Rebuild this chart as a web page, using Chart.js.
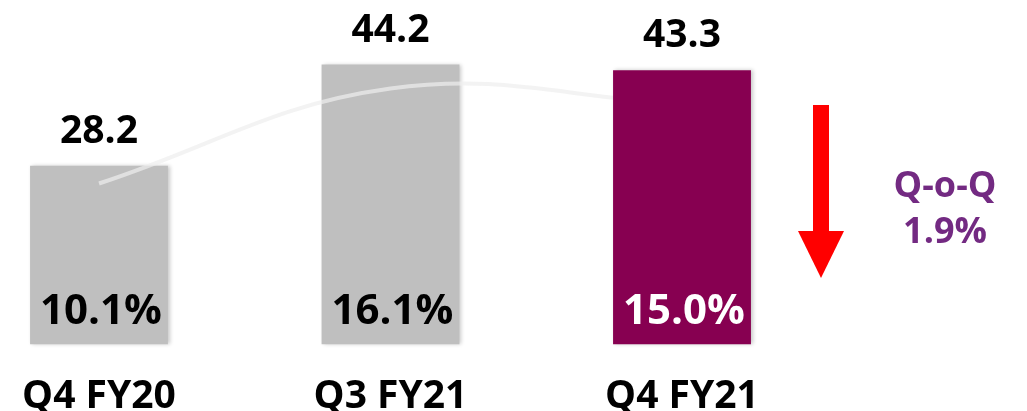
<!DOCTYPE html>
<html>
<head>
<meta charset="utf-8">
<script src="https://cdn.jsdelivr.net/npm/chart.js@4.4.1/dist/chart.umd.min.js"></script>
<style>
  html, body { margin: 0; padding: 0; background: #fff; }
  #wrap { width: 1027px; height: 411px; position: relative; overflow: hidden; }
  #inner { width: 1027px; height: 449px; position: absolute; left: 0; top: 0; }
</style>
</head>
<body>
<div id="wrap"><div id="inner"><canvas id="revenueChart"></canvas></div></div>
<script>
// Datos
const quarters = ['Q4 FY20', 'Q3 FY21', 'Q4 FY21'];
const revenueValues = [28.2, 44.2, 43.3];
const marginValues = [10.1, 16.1, 15.0];
const trendValues = [25.4, 40.4, 38.0];
const qoqChange = 1.9;
const highlightIndex = 2; // el trimestre actual va en morado

const grayColor = '#bfbfbf';
const purpleColor = '#870051';
const qoqColor = '#732a82';
const fontFamily = "'Open Sans', 'Noto Sans', sans-serif";

// separar las barras grises de la barra resaltada para poder dibujar la línea entre ellas
const grayBars = revenueValues.map((v, i) => i === highlightIndex ? null : v);
const purpleBars = revenueValues.map((v, i) => i === highlightIndex ? v : null);

// sombra suave a la derecha de las barras
const barShadow = {
    id: 'barShadow',
    beforeDatasetDraw(chart, args) {
        if (args.meta.type !== 'bar') return;
        const c = chart.ctx;
        c.save();
        c.shadowColor = 'rgba(0,0,0,0.22)';
        c.shadowBlur = 4;
        c.shadowOffsetX = 2;
    },
    afterDatasetDraw(chart, args) {
        if (args.meta.type !== 'bar') return;
        chart.ctx.restore();
    }
};

// etiquetas de valores, márgenes, flecha y texto Q-o-Q
const labelsPlugin = {
    id: 'labelsPlugin',
    afterDatasetsDraw(chart) {
        const c = chart.ctx;
        const yScale = chart.scales.y;
        const xScale = chart.scales.x;
        c.save();
        c.textAlign = 'center';
        c.textBaseline = 'alphabetic';
        revenueValues.forEach((v, i) => {
            const x = xScale.getPixelForValue(i);
            const top = yScale.getPixelForValue(v);
            const base = yScale.getPixelForValue(0);
            c.fillStyle = '#000';
            c.font = 'bold 39px ' + fontFamily;
            c.fillText(v.toFixed(1), x, top - 23);
            c.fillStyle = i === highlightIndex ? '#fff' : '#000';
            c.font = 'bold 42px ' + fontFamily;
            c.fillText(marginValues[i].toFixed(1) + '%', x + 2, base - 20);
        });

        // flecha roja hacia abajo
        const ax = chart.chartArea.right + 139;
        const aTop = 105, aHead = 231, aTip = 278;
        c.fillStyle = '#ff0000';
        c.fillRect(ax - 8, aTop, 16, aHead - aTop);
        c.beginPath();
        c.moveTo(ax - 23, aHead);
        c.lineTo(ax + 23, aHead);
        c.lineTo(ax, aTip);
        c.closePath();
        c.fill();

        // texto Q-o-Q
        const tx = chart.chartArea.right + 263;
        c.fillStyle = qoqColor;
        c.font = 'bold 36px ' + fontFamily;
        c.fillText('Q-o-Q', tx, 197);
        c.fillText(qoqChange.toFixed(1) + '%', tx, 243);
        c.restore();
    }
};

const ctx = document.getElementById('revenueChart').getContext('2d');
new Chart(ctx, {
    data: {
        labels: quarters,
        datasets: [
            {
                type: 'bar',
                data: grayBars,
                backgroundColor: grayColor,
                grouped: false,
                barPercentage: 0.473,
                categoryPercentage: 1,
                clip: false,
                order: 3
            },
            {
                type: 'line',
                data: trendValues,
                borderColor: 'rgba(238,238,238,0.7)',
                borderWidth: 4,
                tension: 0.4,
                pointRadius: 0,
                clip: false,
                order: 2
            },
            {
                type: 'bar',
                data: purpleBars,
                backgroundColor: purpleColor,
                grouped: false,
                barPercentage: 0.473,
                categoryPercentage: 1,
                clip: false,
                order: 1
            }
        ]
    },
    options: {
        responsive: true,
        maintainAspectRatio: false,
        animation: false,
        layout: { padding: { left: 99, right: 345, top: 0, bottom: 0 } },
        plugins: {
            legend: { display: false },
            tooltip: { enabled: false }
        },
        scales: {
            x: {
                offset: false,
                grid: { display: false, drawTicks: false },
                border: { display: false },
                ticks: {
                    color: '#000',
                    padding: 29,
                    font: { family: fontFamily, size: 39, weight: 'bold' }
                },
                // que las etiquetas no empujen el área del gráfico
                afterFit(scale) {
                    scale.paddingLeft = 0;
                    scale.paddingRight = 0;
                }
            },
            y: {
                display: false,
                min: 0,
                max: 54.4
            }
        }
    },
    plugins: [barShadow, labelsPlugin]
});
</script>
</body>
</html>
